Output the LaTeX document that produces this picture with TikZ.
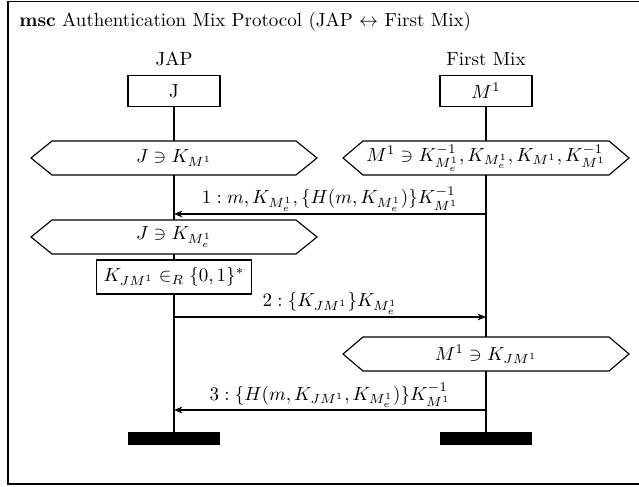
\documentclass[tikz,border=0pt]{standalone}
\usetikzlibrary{arrows.meta}
\begin{document}
\begin{tikzpicture}[x=0.5263pt, y=-0.5263pt,
  inst/.style={draw, fill=white, line width=0.6pt, minimum width=48.4pt, minimum height=16pt, inner sep=0pt},
  endbar/.style={fill=black, minimum width=48.4pt, minimum height=6.8pt, inner sep=0pt},
  lifeline/.style={line width=0.6pt},
  msg/.style={line width=0.6pt, -{Stealth[length=4.5pt,width=3.6pt,inset=1.5pt]}},
  hexshape/.style={draw, fill=white, line width=0.6pt},
  hextext/.style={inner sep=0pt},
  lbl/.style={anchor=base, inner sep=0pt},
  actionbox/.style={draw, fill=white, line width=0.6pt, minimum width=81.6pt, minimum height=17.9pt, inner sep=1pt},
  framebox/.style={line width=0.8pt}]
\useasboundingbox (0,0) rectangle (639,487);
% frame and title
\draw[framebox] (8,1.5) rectangle (642,484);
\node[anchor=base west, inner sep=0pt] (title) at (19,27) {\textbf{msc} Authentication Mix Protocol (JAP $\leftrightarrow$ First Mix)};
% instances
\node[lbl] (japname) at (174,66) {JAP};
\node[lbl] (mixname) at (486,66) {First Mix};
\node[inst] (J) at (174,91) {J};
\node[inst] (M) at (486,91) {$M^1$};
\node[endbar] (Jend) at (174,438.5) {};
\node[endbar] (Mend) at (486,438.5) {};
\draw[lifeline] (J) -- (Jend);
\draw[lifeline] (M) -- (Mend);
% conditions (hexagons)
\draw[hexshape] (31,158) -- (52,141) -- (296,141) -- (317,158) -- (296,175) -- (52,175) -- cycle;
\node[hextext] (c1) at (174,158) {$J \ni K_{M^1}$};
\draw[hexshape] (343,158) -- (363,141) -- (609,141) -- (629,158) -- (609,175) -- (363,175) -- cycle;
\node[hextext] (c2) at (486,158) {$M^1 \ni K^{-1}_{M^1_e}, K_{M^1_e}, K_{M^1}, K^{-1}_{M^1}$};
\draw[hexshape] (31,237) -- (52,220) -- (296,220) -- (317,237) -- (296,254) -- (52,254) -- cycle;
\node[hextext] (c3) at (174,237) {$J \ni K_{M^1_e}$};
\node[actionbox] (act) at (174,277) {$K_{JM^1} \in_R \{0,1\}^*$};
\draw[hexshape] (343,354) -- (363,337) -- (609,337) -- (629,354) -- (609,371) -- (363,371) -- cycle;
\node[hextext] (c4) at (486,354) {$M^1 \ni K_{JM^1}$};
% messages
\coordinate (m1s) at (486,214);
\coordinate (m1e) at (174,214);
\draw[msg] (m1s) -- (m1e);
\node[lbl] (l1) at (330,204) {$1: m, K_{M^1_e}, \{H(m, K_{M^1_e})\}K^{-1}_{M^1}$};
\coordinate (m2s) at (174,317);
\coordinate (m2e) at (486,317);
\draw[msg] (m2s) -- (m2e);
\node[lbl] (l2) at (330,307) {$2: \{K_{JM^1}\}K_{M^1_e}$};
\coordinate (m3s) at (486,410);
\coordinate (m3e) at (174,410);
\draw[msg] (m3s) -- (m3e);
\node[lbl] (l3) at (330,400) {$3: \{H(m, K_{JM^1}, K_{M^1_e})\}K^{-1}_{M^1}$};
\end{tikzpicture}
\end{document}
